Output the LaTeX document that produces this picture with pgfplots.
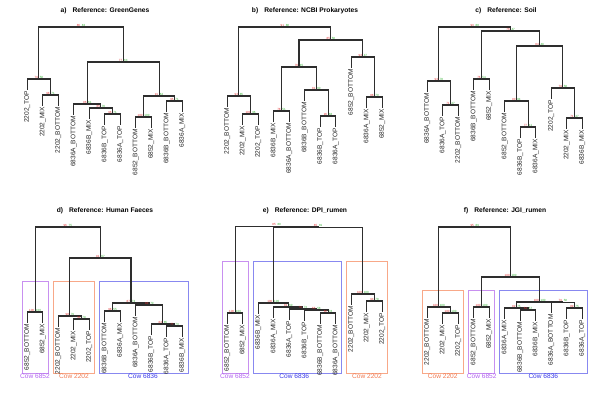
\documentclass[border=0pt]{standalone}
\usepackage{pgfplots}
\pgfplotsset{compat=1.18}
\usepackage{fontspec}
\setmainfont{Liberation Sans}
\definecolor{aucol}{HTML}{E03030}
\definecolor{bpcol}{HTML}{30B030}
\definecolor{purp}{HTML}{B060F0}
\definecolor{oran}{HTML}{F07850}
\definecolor{blu}{HTML}{3535E8}
\definecolor{purpb}{HTML}{C890F0}
\definecolor{oranb}{HTML}{F8A888}
\definecolor{blub}{HTML}{8888F0}
\newcommand\lab{\fontsize{6.6}{7.5}\selectfont}
\newcommand\ttl{\fontsize{6.7}{7.5}\selectfont\bfseries}
\newcommand\pvf{\fontsize{3.0}{3.3}\selectfont}
% merge: xa, ya-end, h, xb, yb-end
\newcommand\mrg[5]{\addplot[tree] coordinates {(#1,#2) (#1,#3) (#4,#3) (#4,#5)};}
% pv numbers: x, h, au, bp
\newcommand\pv[4]{\node[anchor=south,inner sep=0.2pt] at (axis cs:#1,#2-0.4) {\pvf\textcolor{aucol}{#3}\hspace{1.8pt}\textcolor{bpcol}{#4}};}
% leaf label: x, leaf end, text
\newcommand\lf[3]{\node[rotate=90,anchor=east,inner sep=0pt,text=black!85] at (axis cs:#1,#2+1.8) {\lab #3};}
\newcommand\cbox[5]{\addplot[draw=#5,line width=0.6bp] coordinates {(#1,#3) (#2,#3) (#2,#4) (#1,#4) (#1,#3)};}
\pgfplotsset{
  panel/.style={width=200bp,height=200bp,scale only axis,xmin=0,xmax=200,ymin=0,ymax=200,
    y dir=reverse,hide axis,clip=false,anchor=north west},
  tree/.style={black!82,line width=1.1bp,mark=none,line cap=rect}
}
\begin{document}
\begin{tikzpicture}
\path[use as bounding box] (0,0) rectangle (600bp,400bp);
% ---------------- a
\begin{axis}[panel,at={(0bp,400bp)}]
\node at (axis cs:105,11) {\ttl a)\hspace{6pt}Reference: GreenGenes};
\mrg{42.8}{105}{95}{58.3}{105}
\mrg{27.3}{89}{79}{50.55}{95}
\mrg{104.8}{124}{114}{120.3}{124}
\mrg{89.3}{118}{108}{112.55}{114}
\mrg{73.8}{114}{104}{100.9}{108}
\mrg{135.8}{127}{117}{151.3}{127}
\mrg{166.8}{111}{101}{182.3}{111}
\mrg{143.55}{117}{96}{174.55}{101}
\mrg{87.35}{104}{62}{159.05}{96}
\mrg{38.9}{79}{27}{123.2}{62}
\pv{81.05}{27}{86}{83}\pv{123.2}{62}{77}{63}\pv{38.9}{79}{79}{58}\pv{50.55}{95}{98}{71}
\pv{87.35}{104}{96}{61}\pv{100.9}{108}{65}{70}\pv{112.55}{114}{96}{71}\pv{159.05}{96}{91}{62}
\pv{143.55}{117}{100}{100}\pv{174.55}{101}{95}{71}
\lf{27.3}{89}{2202\_TOP}\lf{42.8}{105}{2202\_MIX}\lf{58.3}{105}{2202\_BOTTOM}
\lf{73.8}{114}{6836A\_BOTTOM}\lf{89.3}{118}{6836B\_MIX}\lf{104.8}{124}{6836B\_TOP}
\lf{120.3}{124}{6836A\_TOP}\lf{135.8}{127}{6852\_BOTTOM}\lf{151.3}{127}{6852\_MIX}
\lf{166.8}{111}{6836B\_BOTTOM}\lf{182.3}{111}{6836A\_MIX}
\end{axis}
% ---------------- b
\begin{axis}[panel,at={(200bp,400bp)}]
\node at (axis cs:105,11) {\ttl b)\hspace{6pt}Reference: NCBI Prokaryotes};
\mrg{42.8}{124}{114}{58.3}{124}
\mrg{27.3}{106}{96}{50.55}{114}
\mrg{73.8}{121}{111}{89.3}{121}
\mrg{120.3}{126}{116}{135.8}{126}
\mrg{104.8}{100}{90}{128.05}{116}
\mrg{81.55}{111}{67}{116.4}{90}
\mrg{166.8}{107}{97}{182.3}{107}
\mrg{151.3}{67}{57}{174.55}{97}
\mrg{98.98}{67}{40}{162.9}{57}
\mrg{38.9}{96}{27}{130.9}{40}
\pv{84.9}{27}{91}{88}\pv{130.9}{40}{85}{58}\pv{98.98}{67}{76}{45}\pv{81.55}{111}{78}{51}
\pv{116.4}{90}{81}{60}\pv{128.05}{116}{96}{88}\pv{162.9}{57}{93}{47}\pv{174.55}{97}{88}{70}
\pv{38.9}{96}{93}{85}\pv{50.55}{114}{100}{96}
\lf{27.3}{106}{2202\_BOTTOM}\lf{42.8}{124}{2202\_MIX}\lf{58.3}{124}{2202\_TOP}
\lf{73.8}{121}{6836B\_MIX}\lf{89.3}{121}{6836A\_BOTTOM}\lf{104.8}{100}{6836B\_BOTTOM}
\lf{120.3}{126}{6836B\_TOP}\lf{135.8}{126}{6836A\_TOP}\lf{151.3}{67}{6852\_BOTTOM}
\lf{166.8}{107}{6836A\_MIX}\lf{182.3}{107}{6852\_MIX}
\end{axis}
% ---------------- c
\begin{axis}[panel,at={(400bp,400bp)}]
\node at (axis cs:106,11) {\ttl c)\hspace{6pt}Reference: Soil};
\mrg{42.8}{115}{105}{58.3}{115}
\mrg{27.3}{91}{81}{50.55}{105}
\mrg{73.8}{89}{79}{89.3}{89}
\mrg{120.3}{137}{127}{135.8}{137}
\mrg{104.8}{111}{101}{128.05}{127}
\mrg{166.8}{128}{118}{182.3}{128}
\mrg{151.3}{98}{88}{174.55}{118}
\mrg{116.4}{101}{46}{162.9}{88}
\mrg{81.55}{79}{31}{139.65}{46}
\mrg{38.9}{81}{27}{110.6}{31}
\pv{74.75}{27}{93}{88}\pv{110.6}{31}{76}{47}\pv{139.65}{46}{84}{49}\pv{38.9}{81}{93}{78}
\pv{50.55}{105}{71}{47}\pv{81.55}{79}{76}{54}\pv{116.4}{101}{90}{84}\pv{128.05}{127}{77}{41}
\pv{162.9}{88}{79}{58}\pv{174.55}{118}{71}{47}
\lf{27.3}{91}{6836A\_BOTTOM}\lf{42.8}{115}{6836A\_TOP}\lf{58.3}{115}{2202\_BOTTOM}
\lf{73.8}{89}{6836B\_BOTTOM}\lf{89.3}{89}{6852\_MIX}\lf{104.8}{111}{6852\_BOTTOM}
\lf{120.3}{137}{6836B\_TOP}\lf{135.8}{137}{6836A\_MIX}\lf{151.3}{98}{2202\_TOP}
\lf{166.8}{128}{2202\_MIX}\lf{182.3}{128}{6836B\_MIX}
\end{axis}
% ---------------- d
\begin{axis}[panel,at={(0bp,200bp)}]
\node at (axis cs:105,11) {\ttl d)\hspace{6pt}Reference: Human Faeces};
\cbox{22}{48}{81}{173}{purpb}
\cbox{53}{94.5}{81}{173}{oranb}
\cbox{99.5}{188}{81}{173}{blub}
\node[text=purp] at (axis cs:35,176.5) {\lab Cow 6852};
\node[text=oran] at (axis cs:74,176.5) {\lab Cow 2202};
\node[text=blu] at (axis cs:143,176.5) {\lab Cow 6836};
\mrg{27.3}{122}{112}{42.8}{122}
\mrg{73.8}{129}{119}{89.3}{129}
\mrg{58.3}{126}{116}{81.55}{119}
\mrg{104.8}{121}{111}{120.3}{121}
\mrg{166.8}{136}{126}{182.3}{136}
\mrg{151.3}{134}{124}{174.55}{126}
\mrg{135.8}{115}{105}{162.93}{124}
\mrg{112.55}{111}{103}{149.36}{105}
\mrg{69.93}{116}{58}{130.96}{103}
\mrg{35.05}{112}{27}{100.45}{58}
\pv{67.75}{27}{96}{75}\pv{100.45}{58}{91}{67}\pv{35.05}{112}{100}{100}\pv{69.93}{116}{98}{79}
\pv{81.55}{119}{94}{79}\pv{130.96}{103}{87}{73}\pv{112.55}{111}{98}{55}\pv{149.36}{105}{84}{70}
\pv{162.93}{124}{84}{85}\pv{174.55}{126}{77}{73}
\lf{27.3}{122}{6852\_BOTTOM}\lf{42.8}{122}{6852\_MIX}\lf{58.3}{126}{2202\_BOTTOM}
\lf{73.8}{129}{2202\_MIX}\lf{89.3}{129}{2202\_TOP}\lf{104.8}{121}{6836B\_BOTTOM}
\lf{120.3}{121}{6836A\_MIX}\lf{135.8}{115}{6836A\_BOTTOM}\lf{151.3}{134}{6836B\_TOP}
\lf{166.8}{136}{6836A\_TOP}\lf{182.3}{136}{6836B\_MIX}
\end{axis}
% ---------------- e
\begin{axis}[panel,at={(200bp,200bp)}]
\node at (axis cs:105,11) {\ttl e)\hspace{6pt}Reference: DPI\_rumen};
\cbox{22}{48}{61}{173}{purpb}
\cbox{53.3}{141.7}{61}{173}{blub}
\cbox{146.7}{187.7}{61}{173}{oranb}
\node[text=purp] at (axis cs:35,176.5) {\lab Cow 6852};
\node[text=blu] at (axis cs:94.3,176.5) {\lab Cow 6836};
\node[text=oran] at (axis cs:167,176.5) {\lab Cow 2202};
\mrg{27.3}{123}{113}{42.8}{123}
\mrg{120.3}{123}{113}{135.8}{123}
\mrg{104.8}{120}{110}{128.05}{113}
\mrg{89.3}{119}{109}{116.43}{110}
\mrg{73.8}{117}{107}{102.86}{109}
\mrg{58.3}{113}{103}{88.33}{107}
\mrg{166.8}{111}{101}{182.3}{111}
\mrg{151.3}{104}{94}{174.55}{101}
\mrg{73.3}{103}{27.5}{162.9}{94}
\mrg{35.05}{113}{26.6}{118.1}{27.5}
\pv{76.6}{26.6}{85}{80}\pv{118.1}{27.5}{85}{81}\pv{35.05}{113}{100}{100}\pv{73.3}{103}{100}{100}
\pv{88.33}{107}{81}{60}\pv{102.86}{109}{70}{73}\pv{116.43}{110}{55}{58}\pv{128.05}{113}{82}{78}
\pv{162.9}{94}{100}{100}\pv{174.55}{101}{93}{78}
\lf{27.3}{123}{6852\_BOTTOM}\lf{42.8}{123}{6852\_MIX}\lf{58.3}{113}{6836B\_MIX}
\lf{73.8}{117}{6836A\_MIX}\lf{89.3}{119}{6836A\_TOP}\lf{104.8}{120}{6836B\_TOP}
\lf{120.3}{123}{6836B\_BOTTOM}\lf{135.8}{123}{6836A\_BOTTOM}\lf{151.3}{104}{2202\_BOTTOM}
\lf{166.8}{111}{2202\_MIX}\lf{182.3}{111}{2202\_TOP}
\end{axis}
% ---------------- f
\begin{axis}[panel,at={(400bp,200bp)}]
\node at (axis cs:105,11) {\ttl f)\hspace{6pt}Reference: JGI\_rumen};
\cbox{22.3}{63.3}{90}{173}{oranb}
\cbox{68.7}{94.7}{90}{173}{purpb}
\cbox{99.3}{187.7}{90}{173}{blub}
\node[text=oran] at (axis cs:42.7,176.5) {\lab Cow 2202};
\node[text=purp] at (axis cs:81.7,176.5) {\lab Cow 6852};
\node[text=blu] at (axis cs:143.3,176.5) {\lab Cow 6836};
\mrg{42.8}{123}{113}{58.3}{123}
\mrg{27.3}{117}{107}{50.55}{113}
\mrg{73.8}{117}{107}{89.3}{117}
\mrg{120.3}{120}{110}{135.8}{120}
\mrg{104.8}{118}{108}{128.05}{110}
\mrg{166.8}{118}{108}{182.3}{118}
\mrg{151.3}{112.5}{102.5}{174.55}{108}
\mrg{116.43}{108}{102}{162.9}{102.5}
\mrg{81.55}{107}{77}{139.7}{102}
\mrg{38.9}{107}{27}{110.6}{77}
\pv{74.75}{27}{95}{89}\pv{110.6}{77}{100}{100}\pv{38.9}{107}{100}{100}\pv{50.55}{113}{100}{100}
\pv{81.55}{107}{100}{100}\pv{139.7}{102}{100}{100}\pv{116.43}{108}{92}{75}\pv{128.05}{110}{54}{57}
\pv{162.9}{102.5}{79}{58}\pv{174.55}{108}{89}{75}
\lf{27.3}{117}{2202\_BOTTOM}\lf{42.8}{123}{2202\_MIX}\lf{58.3}{123}{2202\_TOP}
\lf{73.8}{117}{6852\_BOTTOM}\lf{89.3}{117}{6852\_MIX}\lf{104.8}{118}{6836A\_MIX}
\lf{120.3}{120}{6836B\_BOTTOM}\lf{135.8}{120}{6836B\_MIX}\lf{151.3}{112.5}{6836A\_BOTTOM}
\lf{166.8}{118}{6836B\_TOP}\lf{182.3}{118}{6836A\_TOP}
\end{axis}
\end{tikzpicture}
\end{document}
